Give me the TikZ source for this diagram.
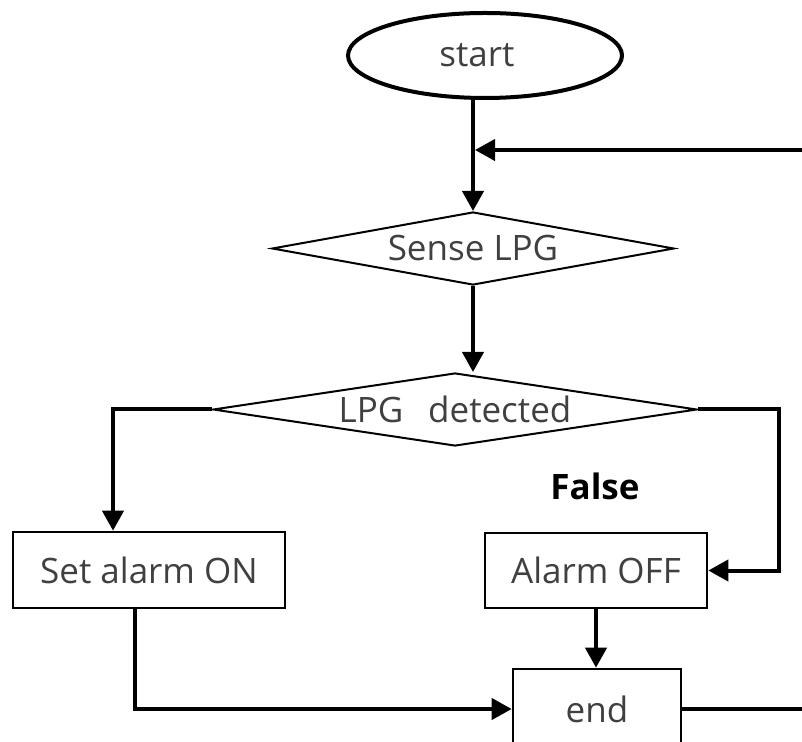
\documentclass[tikz,border=0pt]{standalone}
\usepackage{fontspec}
\setmainfont{Open Sans}
\usetikzlibrary{shapes.geometric,arrows.meta}
\begin{document}
\begin{tikzpicture}[x=0.5pt,y=-0.5pt,
  every node/.style={font=\fontsize{17.5}{20}\selectfont, text=black!75},
  conn/.style={line width=2pt, -{Triangle[length=10pt,width=10.5pt]}},
  line/.style={line width=2pt},
  box/.style={draw, line width=1.3pt, inner sep=0pt, rectangle},
  dec/.style={draw, line width=1pt, shape=diamond, inner sep=0pt}
]
\useasboundingbox (0,0) rectangle (802,742);
\clip (0,0) rectangle (802,742);
\node[draw, ellipse, line width=2pt, minimum width=137pt, minimum height=42.5pt, inner sep=0pt] (start) at (485,55.5) {\hspace*{-8pt}start};
\node[dec, aspect=5.5, minimum width=201pt, minimum height=36.5pt] (sense) at (473,248.5) {Sense LPG};
\node[dec, aspect=6.6, minimum width=242pt, minimum height=36.5pt] (det) at (455,409.5) {LPG\hspace{0.45em} detected};
\node[box, minimum width=136pt, minimum height=38pt] (set) at (149,570) {Set alarm ON};
\node[box, minimum width=111pt, minimum height=37.5pt] (aoff) at (596,570.5) {Alarm OFF};
\node[box, minimum width=84pt, minimum height=40pt] (end) at (597,709) {end};
\node[font=\fontsize{17.5}{20}\selectfont\bfseries, text=black] (false) at (595,486) {False};
\coordinate (rin) at (802,150);
\coordinate (rout) at (802,707);
\coordinate (j) at (sense.north |- rin);
\draw[line width=1.7pt] (start.south -| sense.north) -- (j);
\draw[conn] (j) -- (sense.north);
\draw[conn] (rin) -- ([xshift=1pt]j);
\draw[conn] (sense.south) -- (sense.south |- det.north);
\draw[conn] (det.west) -| ([xshift=-18pt]set.north);
\draw[conn] (det.east) -- ++(81,0) |- (aoff.east);
\draw[conn] (aoff.south) -- (aoff.south |- end.north);
\draw[conn] ([xshift=-7pt]set.south) |- (end.west);
\draw[line] (end.east) -- (end.east -| rout);
\end{tikzpicture}
\end{document}
